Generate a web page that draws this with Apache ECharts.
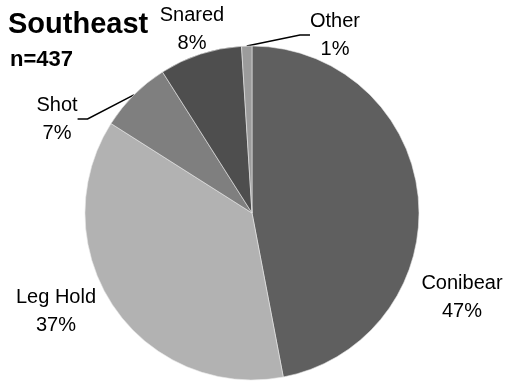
<!DOCTYPE html>
<html><head><meta charset="utf-8">
<script src="https://cdn.jsdelivr.net/npm/echarts@6/dist/echarts.min.js"></script>
<style>html,body{margin:0;padding:0;background:#fff}#c{width:510px;height:383px}</style>
</head><body><div id="c"></div>
<script>
var categories = ['Conibear', 'Leg Hold', 'Shot', 'Snared', 'Other'];
var percents = [47, 37, 7, 8, 1];
var colors = ['#5f5f5f', '#b2b2b2', '#7f7f7f', '#4e4e4e', '#9c9c9c'];
var labelPos = {
  'Conibear': [462, 297],
  'Leg Hold': [56, 311],
  'Shot': [57, 119],
  'Snared': [192, 29],
  'Other': [335, 35]
};
var chart = echarts.init(document.getElementById('c'));
var FONT = 'Liberation Sans';
chart.setOption({
  animation: false,
  backgroundColor: '#fff',
  title: [
    {text: 'Southeast', left: 3, top: 5, textStyle: {fontFamily: FONT, fontWeight: 'bold', fontSize: 29, color: '#000'}},
    {text: 'n=437', left: 5, top: 44, textStyle: {fontFamily: FONT, fontWeight: 'bold', fontSize: 22, color: '#000'}}
  ],
  series: [{
    type: 'pie',
    center: [252, 213],
    radius: 167,
    startAngle: 90,
    clockwise: true,
    data: categories.map(function (c, i) {
      var showLine = (c === 'Shot' || c === 'Other');
      return {name: c, value: percents[i], itemStyle: {color: colors[i]},
        labelLine: {show: showLine}};
    }),
    itemStyle: {borderColor: '#e8e8e8', borderWidth: 0.6},
    label: {
      show: true,
      position: 'outside',
      overflow: 'none',
      fontFamily: FONT,
      fontSize: 20,
      lineHeight: 28,
      color: '#000',
      align: 'center',
      formatter: function (p) { return p.name + '\n' + Math.round(p.value) + '%'; }
    },
    labelLine: {lineStyle: {color: '#000', width: 1.5}, length: 10, length2: 10},
    labelLayout: function (params) {
      var pos = labelPos[categories[params.dataIndex]];
      return {x: pos[0], y: pos[1], align: 'center', verticalAlign: 'middle', hideOverlap: false};
    }
  }]
});
</script></body></html>
